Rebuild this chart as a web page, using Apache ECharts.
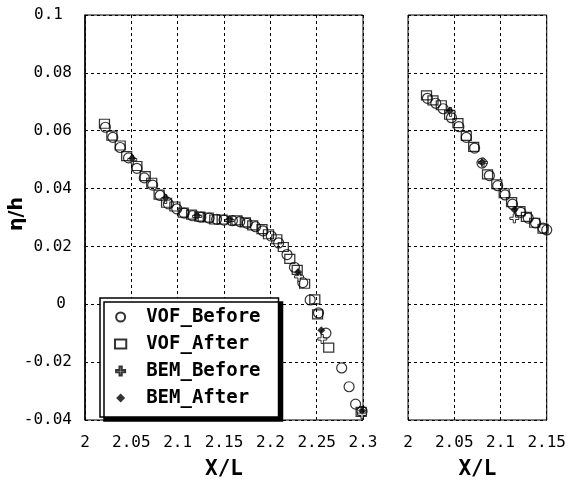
<!DOCTYPE html>
<html>
<head>
<meta charset="utf-8">
<script src="https://cdn.jsdelivr.net/npm/echarts@6/dist/echarts.min.js"></script>
<style>
  html, body { margin: 0; padding: 0; background: #fff; }
  #chart { width: 569px; height: 485px; }
</style>
</head>
<body>
<div id="chart"></div>
<script>
// series names
const names = ['VOF_Before', 'VOF_After', 'BEM_Before', 'BEM_After']

// left panel (x/L 2 .. 2.3)
const vofBeforeL = [
  [2.022, 0.0612], [2.030, 0.0577], [2.038, 0.0542], [2.047, 0.0506], [2.056, 0.0470],
  [2.064, 0.0437], [2.073, 0.0412], [2.081, 0.0376], [2.090, 0.0347], [2.099, 0.0330],
  [2.107, 0.0315], [2.116, 0.0306], [2.125, 0.0301], [2.134, 0.0298], [2.142, 0.0294],
  [2.150, 0.0291], [2.159, 0.0289], [2.167, 0.0286], [2.175, 0.0280], [2.184, 0.0268],
  [2.192, 0.0254], [2.201, 0.0236], [2.209, 0.0212], [2.218, 0.0172], [2.226, 0.0128],
  [2.235, 0.0075], [2.243, 0.0015], [2.252, -0.0030], [2.260, -0.0100], [2.277, -0.0220],
  [2.285, -0.0285], [2.292, -0.0345], [2.299, -0.0370]
]
const vofAfterL = [
  [2.021, 0.0624], [2.029, 0.0583], [2.038, 0.0549], [2.045, 0.0512], [2.056, 0.0478],
  [2.065, 0.0443], [2.072, 0.0420], [2.080, 0.0379], [2.088, 0.0351], [2.097, 0.0338],
  [2.106, 0.0317], [2.115, 0.0310], [2.124, 0.0303], [2.133, 0.0300], [2.140, 0.0293],
  [2.148, 0.0293], [2.164, 0.0290], [2.173, 0.0283], [2.181, 0.0273], [2.191, 0.0260],
  [2.198, 0.0242], [2.207, 0.0225], [2.214, 0.0198], [2.221, 0.0157], [2.229, 0.0119],
  [2.237, 0.0071], [2.248, 0.0017], [2.251, -0.0035], [2.263, -0.0150], [2.298, -0.0372]
]
const bemBeforeL = [
  [2.051, 0.0500], [2.087, 0.0364], [2.121, 0.0304], [2.156, 0.0290], [2.231, 0.0095],
  [2.256, -0.0120], [2.299, -0.0380]
]
const bemAfterL = [
  [2.051, 0.0505], [2.087, 0.0368], [2.121, 0.0307], [2.156, 0.0293], [2.230, 0.0112],
  [2.255, -0.0090], [2.299, -0.0368]
]

// right panel (x/L 2 .. 2.15)
const vofBeforeR = [
  [2.021, 0.0712], [2.030, 0.0695], [2.038, 0.0676], [2.047, 0.0645], [2.055, 0.0614],
  [2.063, 0.0577], [2.072, 0.0540], [2.080, 0.0488], [2.088, 0.0445], [2.097, 0.0410],
  [2.105, 0.0378], [2.113, 0.0346], [2.122, 0.0318], [2.130, 0.0298], [2.138, 0.0281],
  [2.146, 0.0263], [2.150, 0.0257]
]
const vofAfterR = [
  [2.020, 0.0722], [2.027, 0.0705], [2.036, 0.0688], [2.045, 0.0655], [2.054, 0.0626],
  [2.063, 0.0582], [2.071, 0.0544], [2.086, 0.0449], [2.096, 0.0415], [2.104, 0.0384],
  [2.112, 0.0353], [2.121, 0.0322], [2.128, 0.0302], [2.137, 0.0282], [2.146, 0.0261],
  [2.151, 0.0258]
]
const bemBeforeR = [[2.046, 0.0665], [2.081, 0.0490], [2.115, 0.0297], [2.151, 0.0255]]
const bemAfterR = [[2.045, 0.0669], [2.080, 0.0491], [2.115, 0.0327], [2.151, 0.0258]]

// axes
const yMin = -0.04, yMax = 0.1, yStep = 0.02
const xMin = 2, xStep = 0.05
const xMaxL = 2.3, xMaxR = 2.15

const mono = 'DejaVu Sans Mono'
const rectPath = 'path://M0,0H10V9H0Z'
const plusPath = 'path://M3,0H5V3H8V5H5V8H3V5H0V3H3Z'
const diamondPath = 'path://M5,0L10,5L5,10L0,5Z'

const dash = { color: '#000', width: 1, type: [3, 3] }

function xAxis(idx, max) {
  return {
    type: 'value', gridIndex: idx, min: xMin, max: max, interval: xStep,
    name: 'X/L', nameLocation: 'middle', nameGap: 39,
    nameTextStyle: { color: '#000', fontFamily: mono, fontSize: 21, fontWeight: 'bold' },
    axisLine: { show: false }, axisTick: { show: false },
    axisLabel: { color: '#000', fontFamily: mono, fontSize: 16, margin: 15 },
    splitLine: { show: true, lineStyle: dash }
  }
}

function yAxis(idx, labels) {
  return {
    type: 'value', gridIndex: idx, min: yMin, max: yMax, interval: yStep,
    axisLine: { show: idx === 0, lineStyle: { color: '#000', width: 1.5 } },
    axisTick: { show: false },
    axisLabel: {
      show: labels, color: '#000', fontFamily: mono, fontSize: 16, margin: 13,
      formatter(v) {
        const s = String(+v.toFixed(2))
        if (s === '0.1') return '{p|0.1}'
        if (s === '0') return '{q|0}'
        return s
      },
      rich: {
        p: { fontFamily: mono, fontSize: 16, color: '#000', padding: [0, 9, 0, 0] },
        q: { fontFamily: mono, fontSize: 16, color: '#000', padding: [0, 6, 0, 0] }
      }
    },
    splitLine: { show: true, lineStyle: dash }
  }
}

const open = { color: 'rgba(0,0,0,0)', borderColor: '#000', borderWidth: 1.2 }

function panel(idx, vb, va, bb, ba) {
  return [
    { name: names[0], type: 'scatter', xAxisIndex: idx, yAxisIndex: idx, data: vb,
      symbol: 'circle', symbolSize: 10, itemStyle: open },
    { name: names[1], type: 'scatter', xAxisIndex: idx, yAxisIndex: idx, data: va,
      symbol: rectPath, symbolSize: [10, 9], itemStyle: open },
    { name: names[2], type: 'scatter', xAxisIndex: idx, yAxisIndex: idx, data: bb,
      symbol: plusPath, symbolSize: 9, itemStyle: { color: '#fff', borderColor: '#000', borderWidth: 1 } },
    { name: names[3], type: 'scatter', xAxisIndex: idx, yAxisIndex: idx, data: ba,
      symbol: diamondPath, symbolSize: 8, itemStyle: { color: '#000' } }
  ]
}

const chart = echarts.init(document.getElementById('chart'))
chart.setOption({
  backgroundColor: '#fff',
  animation: false,
  grid: [
    { left: 85, top: 15, width: 278, height: 410, show: true, borderColor: '#000', borderWidth: 1 },
    { left: 408, top: 15, width: 139, height: 410, show: true, borderColor: '#000', borderWidth: 1 }
  ],
  xAxis: [xAxis(0, xMaxL), xAxis(1, xMaxR)],
  yAxis: [yAxis(0, true), yAxis(1, false)],
  legend: {
    data: [
      { name: names[0], icon: 'circle' },
      { name: names[1], icon: 'path://M0,0H10V8H0Z' },
      { name: names[2], icon: plusPath },
      { name: names[3], icon: diamondPath }
    ],
    orient: 'vertical', left: 100, top: 298, symbolKeepAspect: true,
    padding: [9, 18, 9, 14], itemGap: 7, itemWidth: 41, itemHeight: 9,
    backgroundColor: '#fff', borderColor: '#000', borderWidth: 1.5,
    shadowColor: '#000', shadowOffsetX: 4, shadowOffsetY: 4, shadowBlur: 0,
    textStyle: { color: '#000', fontFamily: mono, fontSize: 19, fontWeight: 'bold', lineHeight: 20 }
  },
  graphic: [{
    type: 'text', x: 17, y: 214, rotation: Math.PI / 2,
    style: { text: 'η/h', fontSize: 19, fontFamily: 'DejaVu Sans', fontWeight: 'bold', fill: '#000',
      align: 'center', verticalAlign: 'middle' }
  }],
  series: panel(0, vofBeforeL, vofAfterL, bemBeforeL, bemAfterL)
    .concat(panel(1, vofBeforeR, vofAfterR, bemBeforeR, bemAfterR))
})
</script>
</body>
</html>
